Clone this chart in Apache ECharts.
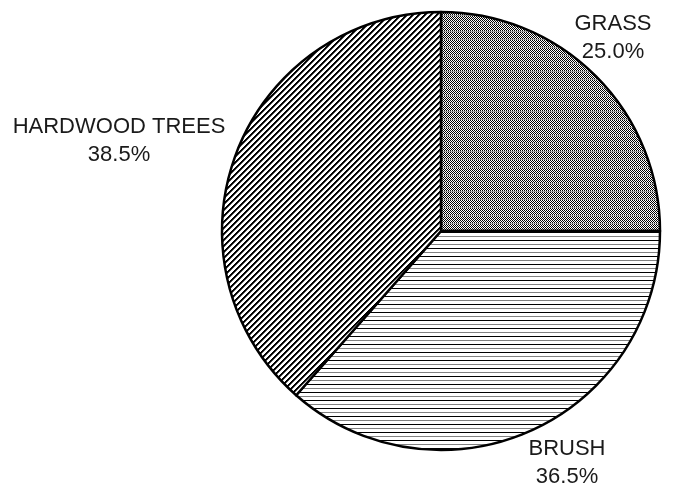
<!DOCTYPE html>
<html>
<head>
<meta charset="utf-8">
<script src="https://cdn.jsdelivr.net/npm/echarts@6/dist/echarts.min.js"></script>
<style>
html,body{margin:0;padding:0;background:#fff;}
#chart{width:685px;height:493px;}
</style>
</head>
<body>
<div id="chart"></div>
<script>
// Data
var categories = ['GRASS', 'BRUSH', 'HARDWOOD TREES'];
var values = [25.0, 36.5, 38.5];

// Label placement (layout only)
var labelPos = [[613, 38], [567, 463], [119, 141]];

function makeTile(w, h, painter) {
  var c = document.createElement('canvas');
  c.width = w; c.height = h;
  var ctx = c.getContext('2d');
  ctx.fillStyle = '#fff';
  ctx.fillRect(0, 0, w, h);
  for (var y = 0; y < h; y++) {
    for (var x = 0; x < w; x++) {
      var col = painter(x, y);
      if (col) { ctx.fillStyle = col; ctx.fillRect(x, y, 1, 1); }
    }
  }
  return c;
}

var grassTile = makeTile(2, 8, function (x, y) {
  if (y === 7) return '#9a9a9a';
  return ((x + y) % 2 === 0) ? '#000' : null;
});
var brushTile = makeTile(1, 8, function (x, y) {
  if (y === 0) return '#000';
  if (y === 4) return '#808080';
  return null;
});
var hardTile = makeTile(6, 6, function (x, y) {
  var k = (x + y) % 6;
  if (k === 0 || k === 1) return '#000';
  if (k === 2) return '#555';
  return null;
});

var patterns = [grassTile, brushTile, hardTile];

var seriesData = categories.map(function (name, i) {
  return {
    name: name,
    value: values[i],
    itemStyle: { color: { image: patterns[i], repeat: 'repeat' } }
  };
});

var chart = echarts.init(document.getElementById('chart'), null, { renderer: 'canvas' });
chart.setOption({
  animation: false,
  backgroundColor: '#fff',
  series: [{
    type: 'pie',
    center: [441, 231],
    radius: 219,
    startAngle: 90,
    clockwise: true,
    silent: true,
    emphasis: { disabled: true },
    avoidLabelOverlap: false,
    itemStyle: { borderColor: '#000', borderWidth: 2.5 },
    label: {
      show: true,
      position: 'outside',
      overflow: 'none',
      formatter: function (p) { return p.name + '\n' + p.percent.toFixed(1) + '%'; },
      fontFamily: 'Liberation Sans, Arial, sans-serif',
      fontSize: 22,
      lineHeight: 28,
      color: '#1a1a1a',
      align: 'center'
    },
    labelLine: { show: false },
    labelLayout: function (p) {
      var pos = labelPos[p.dataIndex];
      return { x: pos[0], y: pos[1], align: 'center', verticalAlign: 'middle' };
    },
    data: seriesData
  }]
});
</script>
</body>
</html>
